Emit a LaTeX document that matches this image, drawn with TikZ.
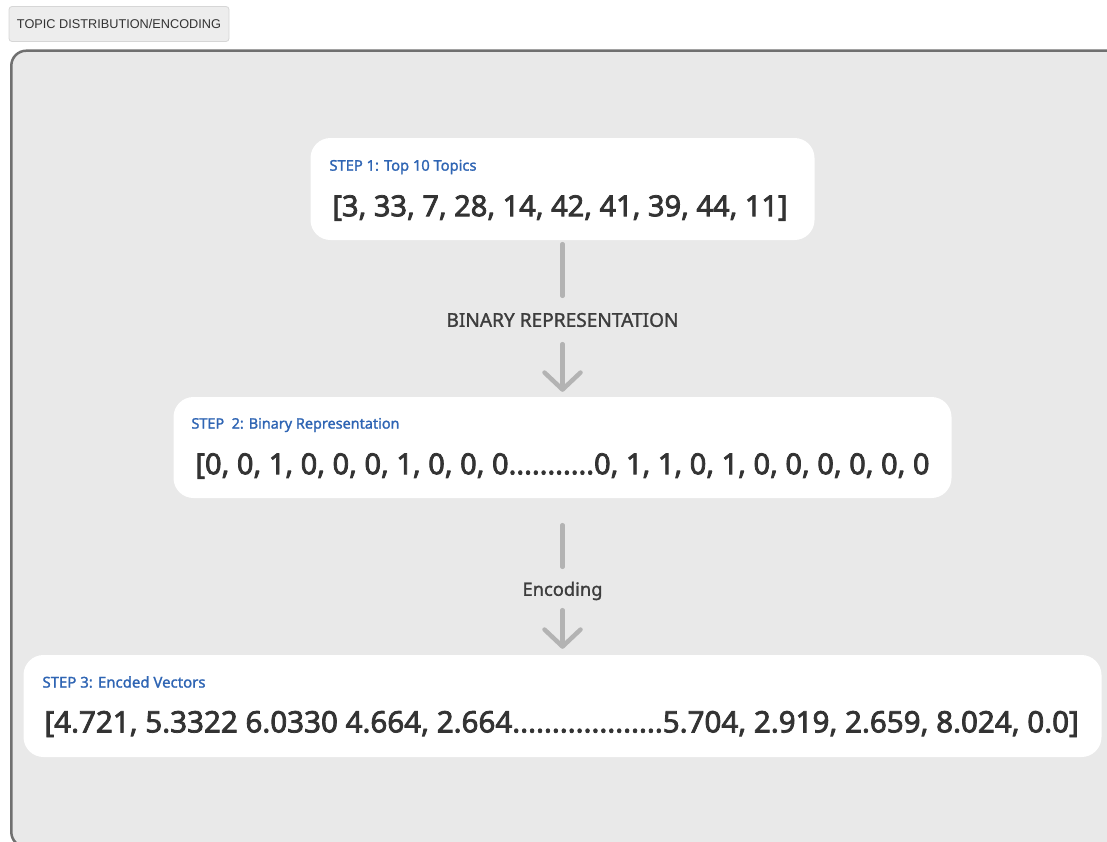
\documentclass[tikz,border=0pt]{standalone}
\usepackage{graphicx}
\usepackage{fontspec}
\setmainfont{Noto Sans}
\newfontfamily\btnfont{Liberation Sans}
\newfontfamily\bodyfont{Noto Sans}[FakeBold=2.6]
\newfontfamily\labelfont{Noto Sans}[FakeBold=1.4]
\usetikzlibrary{arrows.meta}

% scale a piece of text to an exact width (in pt)
\newcommand\fitto[2]{\resizebox{#1pt}{!}{#2}}

\definecolor{panelfill}{HTML}{E9E9E9}
\definecolor{panelline}{HTML}{707070}
\definecolor{btnfill}{HTML}{EDEDED}
\definecolor{btnline}{HTML}{D6D6D6}
\definecolor{connline}{HTML}{B3B3B3}
\definecolor{steptext}{HTML}{2F65B4}
\definecolor{bodytext}{HTML}{333333}
\definecolor{captext}{HTML}{3D3D3D}

\tikzset{
  panel/.style={draw=panelline, line width=2.5pt, fill=panelfill, rounded corners=15pt},
  tabbtn/.style={draw=btnline, line width=0.8pt, fill=btnfill, rounded corners=3pt,
    minimum width=220pt, minimum height=35pt, inner sep=0pt, text=bodytext},
  stepbox/.style={fill=white, rounded corners=20pt, inner sep=0pt, minimum height=102pt},
  steplabel/.style={anchor=west, inner sep=0pt, text=steptext, font=\labelfont},
  steptext/.style={anchor=west, inner sep=0pt, text=bodytext, font=\bodyfont},
  caption/.style={inner sep=0pt, minimum height=44pt, text=captext, font=\labelfont},
  conn/.style={draw=connline, line width=4.5pt, line cap=round},
  connarrow/.style={conn, -{Straight Barb[length=17pt, width=36pt, round]}},
}

\begin{document}
\begin{tikzpicture}[x=1pt, y=-1pt]
  \useasboundingbox (0,0) rectangle (1107,841);
  \begin{scope}
    \clip (0,0) rectangle (1107,841);
    % large panel
    \path[panel] (11.3,50.7) rectangle (1125,847);
  \end{scope}

  % tab button
  \node[tabbtn] (tab) at (119,24) {\fitto{204}{\btnfont TOPIC DISTRIBUTION/ENCODING}};

  % step boxes
  \node[stepbox, minimum width=504pt] (b1) at (562.5,189) {};
  \node[stepbox, minimum width=778pt, minimum height=101pt] (b2) at (562.5,447.5) {};
  \node[stepbox, minimum width=1078pt] (b3) at (562.5,706) {};

  % box contents
  \node[steplabel] (s1) at ([shift={(19,-22)}]b1.west) {\fitto{147}{STEP 1: Top 10 Topics}};
  \node[steptext] (v1) at ([shift={(22,19)}]b1.west) {\fitto{455}{[3, 33, 7, 28, 14, 42, 41, 39, 44, 11]}};

  \node[steplabel] (s2) at ([shift={(18,-22.5)}]b2.west) {\fitto{208}{STEP\ \ 2: Binary Representation}};
  \node[steptext] (v2) at ([shift={(22,18.5)}]b2.west) {\fitto{734}{[0, 0, 1, 0, 0, 0, 1, 0, 0, 0...........0, 1, 1, 0, 1, 0, 0, 0, 0, 0, 0}};

  \node[steplabel] (s3) at ([shift={(19,-24)}]b3.west) {\fitto{163}{STEP 3: Encded Vectors}};
  \node[steptext] (v3) at ([shift={(21,18)}]b3.west) {\fitto{1034}{[4.721, 5.3322 6.0330 4.664, 2.664...................5.704, 2.919, 2.659, 8.024, 0.0]}};

  % captions on the connectors
  \node[caption] (c1) at (562.5,320) {\fitto{232}{BINARY REPRESENTATION}};
  \node[caption] (c2) at (562.5,591) {\fitto{80}{Encoding}};

  % connectors
  \draw[conn, shorten <=4pt, shorten >=2pt] (b1.south) -- (c1.north);
  \draw[connarrow, shorten <=2pt, shorten >=5pt] (c1.south) -- (b2.north);
  \draw[conn, shorten <=27pt, shorten >=2pt] (b2.south) -- (c2.north);
  \draw[connarrow, shorten <=-3pt, shorten >=6pt] (c2.south) -- (b3.north);
\end{tikzpicture}
\end{document}
